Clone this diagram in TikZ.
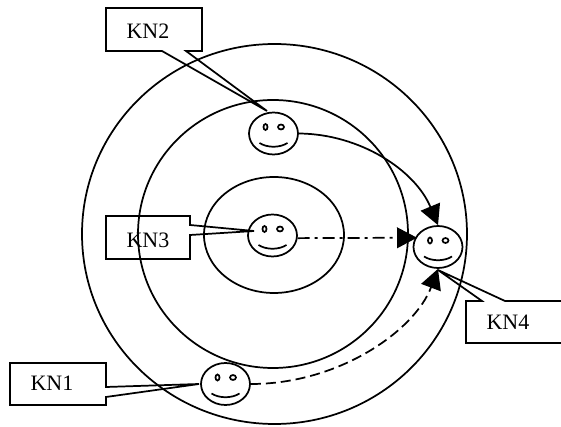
\documentclass[tikz,border=0pt]{standalone}
\usepackage{fontspec}
\setmainfont{Liberation Serif}
\usetikzlibrary{arrows.meta,shapes.geometric}
\tikzset{
  face/.style={ellipse, draw, inner sep=0pt, minimum width=36.75pt, minimum height=31.5pt,
    path picture={
      \draw[shift={(path picture bounding box.center)}]
        (-8,-6.5) circle[x radius=2, y radius=3]
        (7.5,-6.5) circle[x radius=3, y radius=2.5]
        (-14,9.5) .. controls (-6,14.5) and (6,14.5) .. (14,9.5);
    }},
  tag/.style={font=\fontsize{16.5pt}{18pt}\selectfont, inner sep=0pt},
  bighead/.style={-{Triangle[length=15pt,width=15.5pt]}},
}
\begin{document}
\begin{tikzpicture}[x=0.75pt,y=-0.75pt,line width=1.3pt]
\useasboundingbox (0,0) rectangle (561,427);
\draw (274.5,234) circle[x radius=192.5, y radius=190];
\draw (273,234) circle[x radius=135, y radius=134];
\draw (274,235) circle[x radius=70, y radius=58];
% the four faces
\node[face] (kn2) at (273.5,133.5) {};
\node[face] (kn3) at (272.5,235.5) {};
\node[face] (kn4) at (438,247) {};
\node[face] (kn1) at (225.5,384) {};
% callouts
\path (267,111) coordinate (kn2tip);
\path (254,231) coordinate (kn3tip);
\path (199,384) coordinate (kn1tip);
\path (438,270) coordinate (kn4tip);
\draw (kn2tip) -- (162,51) -- (106,51) -- (106,8) -- (202,8) -- (202,51) -- (186,51) -- cycle;
\draw (kn3tip) -- (190,225) -- (190,216) -- (106,216) -- (106,259) -- (190,259) -- (190,235) -- cycle;
\draw (kn1tip) -- (106,387) -- (106,363) -- (10,363) -- (10,405) -- (106,405) -- (106,397) -- cycle;
\draw (kn4tip) -- (505,301) -- (561,301) (561,343) -- (466,343) -- (466,301) -- (482,301) -- (kn4tip);
\node[tag] (kn2label) at (148,31) {KN2};
\node[tag] (kn3label) at (148,240) {KN3};
\node[tag] (kn1label) at (52,383) {KN1};
\node[tag] (kn4label) at (508,322) {KN4};
% who talks to whom
\draw[bighead] (kn2.east) .. controls (360,134) and (415,170) .. (kn4.north);
\draw[bighead, dash pattern=on 9pt off 3.75pt on 2.25pt off 3.75pt] (kn3.-6) -- ([xshift=1.5pt]kn4.158);
\draw[bighead, dash pattern=on 7.5pt off 3.75pt] (kn1.east) .. controls (340,384) and (415,330) .. (kn4.south);
\end{tikzpicture}
\end{document}
